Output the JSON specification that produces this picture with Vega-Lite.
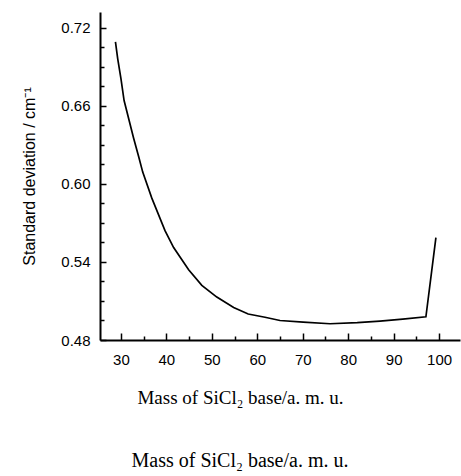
{
  "$schema": "https://vega.github.io/schema/vega-lite/v6.json",
  "width": 360,
  "height": 328,
  "autosize": {"type": "none"},
  "padding": {"left": 100, "top": 12, "right": 1, "bottom": 136},
  "background": "white",
  "title": {
    "text": "Mass of SiCl₂ base/a. m. u.",
    "orient": "bottom",
    "font": "Liberation Serif",
    "fontSize": 20,
    "fontWeight": "normal",
    "color": "black",
    "offset": 44,
    "anchor": "middle",
    "dx": -40
  },
  "data": {
    "values": [
      {"mass": 28.8, "sd": 0.709},
      {"mass": 29.3, "sd": 0.696},
      {"mass": 30.0, "sd": 0.681},
      {"mass": 30.7, "sd": 0.664},
      {"mass": 32.8, "sd": 0.635},
      {"mass": 33.9, "sd": 0.621},
      {"mass": 34.8, "sd": 0.609},
      {"mass": 36.8, "sd": 0.589},
      {"mass": 39.7, "sd": 0.564},
      {"mass": 41.6, "sd": 0.551},
      {"mass": 44.9, "sd": 0.534},
      {"mass": 47.8, "sd": 0.522},
      {"mass": 51.1, "sd": 0.513},
      {"mass": 54.8, "sd": 0.505},
      {"mass": 58.0, "sd": 0.500},
      {"mass": 61.7, "sd": 0.4975},
      {"mass": 65.0, "sd": 0.495},
      {"mass": 70.1, "sd": 0.4937},
      {"mass": 76.0, "sd": 0.4925},
      {"mass": 82.0, "sd": 0.4933},
      {"mass": 87.0, "sd": 0.4945},
      {"mass": 92.0, "sd": 0.496},
      {"mass": 97.1, "sd": 0.4978},
      {"mass": 99.3, "sd": 0.5586}
    ]
  },
  "mark": {"type": "line", "color": "black", "strokeWidth": 1.7},
  "encoding": {
    "x": {
      "field": "mass",
      "type": "quantitative",
      "scale": {"domain": [25.4, 104.6], "nice": false, "zero": false},
      "axis": {
        "values": [30, 35, 40, 45, 50, 55, 60, 65, 70, 75, 80, 85, 90, 95, 100],
        "labelExpr": "datum.value % 10 === 0 ? datum.label : ''",
        "title": "Mass of SiCl₂ base/a. m. u.",
        "titleFont": "Liberation Serif",
        "titleFontSize": 19,
        "titleFontWeight": "normal",
        "titleColor": "black",
        "titlePadding": 21,
        "titleX": 140,
        "titleAnchor": "start",
        "titleAlign": "center",
        "labelFont": "Liberation Sans",
        "labelFontSize": 15,
        "labelColor": "black",
        "labelPadding": 19,
        "tickSize": {"condition": {"test": "datum.value % 10 === 0", "value": -7}, "value": -4},
        "tickColor": "black",
        "tickWidth": 1.5,
        "domainColor": "black",
        "domainWidth": 2,
        "grid": false
      }
    },
    "y": {
      "field": "sd",
      "type": "quantitative",
      "scale": {"domain": [0.48, 0.732], "nice": false, "zero": false},
      "axis": {
        "values": [0.48, 0.495, 0.51, 0.525, 0.54, 0.555, 0.57, 0.585, 0.6, 0.615, 0.63, 0.645, 0.66, 0.675, 0.69, 0.705, 0.72],
        "labelExpr": "abs(round(datum.value / 0.06) * 0.06 - datum.value) < 0.001 ? format(datum.value, '.2f') : ''",
        "title": "Standard deviation / cm⁻¹",
        "titleFont": "Liberation Sans",
        "titleFontSize": 16,
        "titleFontWeight": "normal",
        "titleColor": "black",
        "titlePadding": 23,
        "labelFont": "Liberation Sans",
        "labelFontSize": 15,
        "labelColor": "black",
        "labelPadding": 16,
        "tickSize": {"condition": {"test": "abs(round(datum.value / 0.06) * 0.06 - datum.value) < 0.001", "value": -6}, "value": -4},
        "tickColor": "black",
        "tickWidth": 1.5,
        "domainColor": "black",
        "domainWidth": 2,
        "grid": false
      }
    }
  },
  "config": {"view": {"stroke": null}}
}
